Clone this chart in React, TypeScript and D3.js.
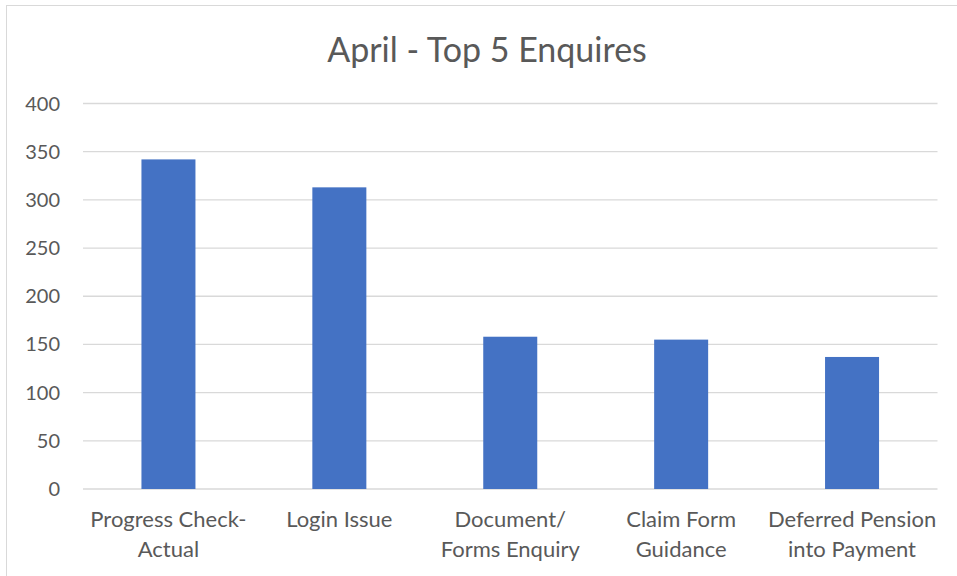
import React, { useEffect, useRef } from 'react';
import * as d3 from 'd3';

const title = 'April - Top 5 Enquires';
const categories = [
  ['Progress Check-', 'Actual'],
  ['Login Issue'],
  ['Document/', 'Forms Enquiry'],
  ['Claim Form', 'Guidance'],
  ['Deferred Pension', 'into Payment'],
];
const values = [342, 313, 158, 155, 137];
const yTicks = [0, 50, 100, 150, 200, 250, 300, 350, 400];

const W = 957;
const H = 576;
const FONT = 'Lato, "Open Sans", sans-serif';
const TEXT = '#595959';

export default function App() {
  const svgRef = useRef<SVGSVGElement>(null);

  useEffect(() => {
    const svg = d3.select(svgRef.current);
    svg.selectAll('*').remove();

    const margin = { top: 103.5, right: 20, bottom: 87, left: 83 };
    const innerW = 937.5 - margin.left;
    const innerH = 489 - margin.top;

    // chart border
    svg.append('rect')
      .attr('x', 6.5).attr('y', 5.5)
      .attr('width', W).attr('height', H)
      .attr('fill', '#fff').attr('stroke', '#d9d9d9');

    svg.append('text')
      .attr('x', 487).attr('y', 62)
      .attr('text-anchor', 'middle')
      .style('font-family', FONT).style('font-size', '34px')
      .attr('fill', TEXT)
      .text(title);

    const g = svg.append('g').attr('transform', `translate(${margin.left},${margin.top})`);

    const keys = categories.map((c) => c.join(' '));
    const x = d3.scaleBand().domain(keys).range([0, innerW]).paddingInner(0.684).paddingOuter(0.342);
    const y = d3.scaleLinear().domain([0, 400]).range([innerH, 0]);

    // gridlines
    g.selectAll('.grid')
      .data(yTicks)
      .enter().append('line')
      .attr('x1', 0).attr('x2', innerW)
      .attr('y1', (d) => y(d)).attr('y2', (d) => y(d))
      .attr('stroke', '#d9d9d9').attr('stroke-width', 1.3);

    // y tick labels
    g.selectAll('.ytick')
      .data(yTicks)
      .enter().append('text')
      .attr('x', -23).attr('y', (d) => y(d))
      .attr('dy', '0.35em')
      .attr('text-anchor', 'end')
      .style('font-family', FONT).style('font-size', '20px')
      .attr('fill', TEXT)
      .text((d) => d);

    // bars
    g.selectAll('.bar')
      .data(values)
      .enter().append('rect')
      .attr('x', (_, i) => x(keys[i])!)
      .attr('y', (d) => y(d))
      .attr('width', x.bandwidth())
      .attr('height', (d) => innerH - y(d))
      .attr('fill', '#4472c4');

    // category labels
    categories.forEach((lines, i) => {
      const cx = x(keys[i])! + x.bandwidth() / 2;
      const t = g.append('text')
        .attr('text-anchor', 'middle')
        .style('font-family', FONT).style('font-size', '22px')
        .attr('fill', TEXT);
      lines.forEach((line, j) => {
        t.append('tspan').attr('x', cx).attr('y', innerH + 38 + j * 30).text(line);
      });
    });
  }, []);

  return (
    <svg ref={svgRef} width={W} height={H} style={{ position: 'absolute', left: 0, top: 0 }} />
  );
}
